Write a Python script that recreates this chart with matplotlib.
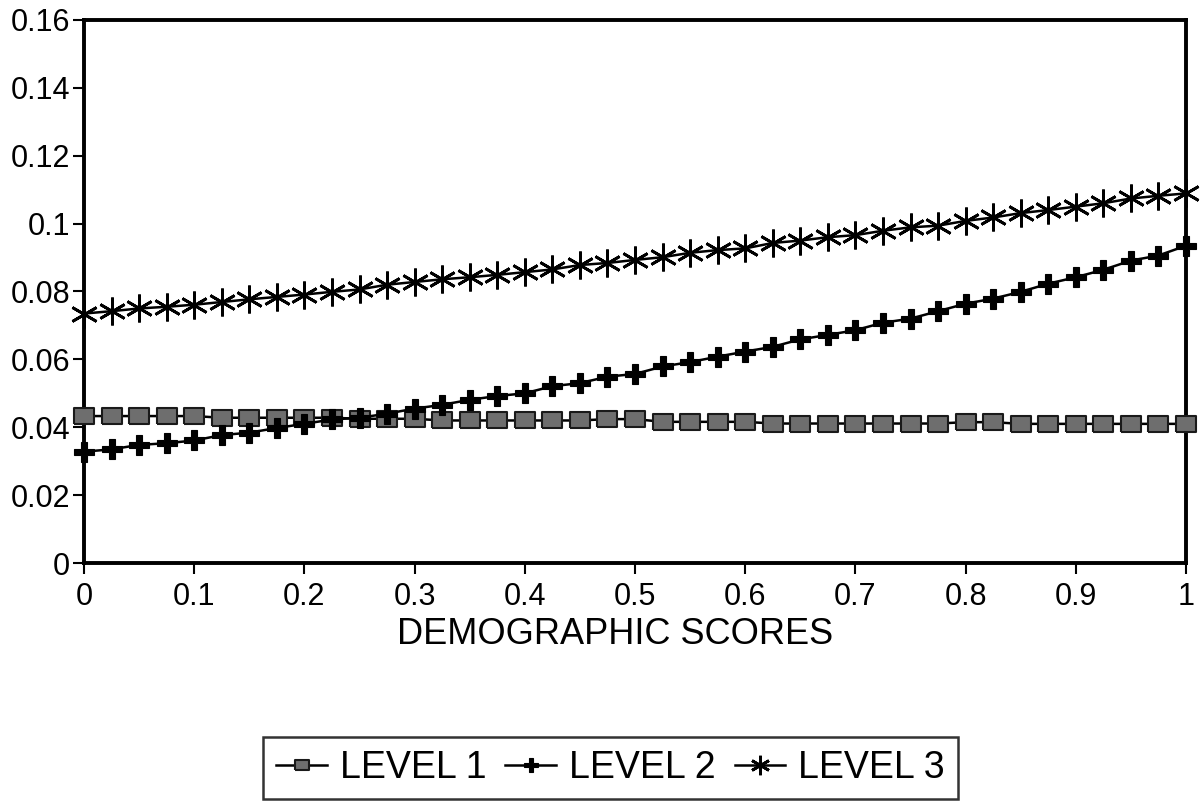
import matplotlib
matplotlib.use("Agg")
import matplotlib.pyplot as plt
from matplotlib.ticker import FixedLocator

# ─────────────────────────────────────────────
#  Data
# ─────────────────────────────────────────────

DEMO_SCORES = [
    0.0, 0.025, 0.05, 0.075, 0.1, 0.125, 0.15, 0.175, 0.2, 0.225,
    0.25, 0.275, 0.3, 0.325, 0.35, 0.375, 0.4, 0.425, 0.45, 0.475,
    0.5, 0.525, 0.55, 0.575, 0.6, 0.625, 0.65, 0.675, 0.7, 0.725,
    0.75, 0.775, 0.8, 0.825, 0.85, 0.875, 0.9, 0.925, 0.95, 0.975, 1.0,
]

LEVEL_1 = [
    0.0433, 0.0433, 0.0433, 0.0433, 0.0433, 0.0428, 0.0428, 0.0428, 0.0428, 0.0428,
    0.0425, 0.0425, 0.0425, 0.0420, 0.0420, 0.0420, 0.0420, 0.0420, 0.0420, 0.0424,
    0.0424, 0.0416, 0.0416, 0.0416, 0.0416, 0.0411, 0.0411, 0.0411, 0.0411, 0.0411,
    0.0411, 0.0411, 0.0415, 0.0415, 0.0410, 0.0410, 0.0410, 0.0410, 0.0410, 0.0410, 0.0410,
]

LEVEL_2 = [
    0.0328, 0.0335, 0.0348, 0.0353, 0.0361, 0.0377, 0.0384, 0.0398, 0.0410, 0.0423,
    0.0428, 0.0440, 0.0455, 0.0466, 0.0481, 0.0492, 0.0500, 0.0521, 0.0530, 0.0549,
    0.0557, 0.0579, 0.0592, 0.0608, 0.0623, 0.0637, 0.0659, 0.0672, 0.0686, 0.0708,
    0.0720, 0.0742, 0.0764, 0.0779, 0.0799, 0.0823, 0.0842, 0.0864, 0.0891, 0.0906, 0.0935,
]

LEVEL_3 = [
    0.0735, 0.0742, 0.0750, 0.0755, 0.0761, 0.0769, 0.0777, 0.0784, 0.0791, 0.0799,
    0.0806, 0.0820, 0.0828, 0.0836, 0.0842, 0.0849, 0.0857, 0.0865, 0.0878, 0.0884,
    0.0893, 0.0901, 0.0914, 0.0922, 0.0927, 0.0943, 0.0950, 0.0960, 0.0966, 0.0979,
    0.0989, 0.0994, 0.1008, 0.1018, 0.1031, 0.1040, 0.1050, 0.1060, 0.1074, 0.1082, 0.1089,
]

SERIES_LABELS = ["LEVEL 1", "LEVEL 2", "LEVEL 3"]
X_TICKS = [0, 0.1, 0.2, 0.3, 0.4, 0.5, 0.6, 0.7, 0.8, 0.9, 1]
X_TICK_LABELS = ["0", "0.1", "0.2", "0.3", "0.4", "0.5", "0.6", "0.7", "0.8", "0.9", "1"]
Y_TICKS = [0, 0.02, 0.04, 0.06, 0.08, 0.1, 0.12, 0.14, 0.16]
Y_TICK_LABELS = ["0", "0.02", "0.04", "0.06", "0.08", "0.1", "0.12", "0.14", "0.16"]

FONT = ["Liberation Sans", "DejaVu Sans"]

# wide rectangle marker for level 1
RECT = [(-1.3, -1.0), (1.3, -1.0), (1.3, 1.0), (-1.3, 1.0), (-1.3, -1.0)]

# ─────────────────────────────────────────────
#  Plot
# ─────────────────────────────────────────────

fig = plt.figure(figsize=(12.02, 8.05), dpi=100)
ax = fig.add_axes([0.0699, 0.3006, 0.9168, 0.6746])

ax.plot(DEMO_SCORES, LEVEL_1, color="black", linewidth=1.8,
        marker=RECT, markersize=14.5, markerfacecolor="#6e6e6e",
        markeredgecolor="#1a1a1a", markeredgewidth=1.5,
        label=SERIES_LABELS[0], clip_on=False, zorder=3)
ax.plot(DEMO_SCORES, LEVEL_2, color="black", linewidth=1.8,
        marker="P", markersize=14, markerfacecolor="black",
        markeredgecolor="black", markeredgewidth=0.8,
        label=SERIES_LABELS[1], clip_on=False, zorder=4)
ax.plot(DEMO_SCORES, LEVEL_3, color="black", linewidth=1.8,
        marker=(6, 2, 0), markersize=20, markeredgewidth=2.0,
        markeredgecolor="black",
        label=SERIES_LABELS[2], clip_on=False, zorder=4)

ax.set_xlim(0, 1)
ax.set_ylim(0, 0.16)
ax.xaxis.set_major_locator(FixedLocator(X_TICKS))
ax.yaxis.set_major_locator(FixedLocator(Y_TICKS))
ax.set_xticklabels(X_TICK_LABELS, fontsize=22, family=FONT)
ax.set_yticklabels(Y_TICK_LABELS, fontsize=22, family=FONT)
ax.tick_params(axis="both", direction="out", length=8, width=1.5)
ax.tick_params(axis="y", pad=2)
ax.tick_params(axis="x", pad=6)

for side in ["left", "right", "top", "bottom"]:
    ax.spines[side].set_linewidth(2.8)

ax.set_xlabel("DEMOGRAPHIC SCORES", fontsize=26, family=FONT)
ax.xaxis.set_label_coords(0.482, -0.099)

leg = fig.legend(loc="upper center", bbox_to_anchor=(0.508, 1 - 737 / 805),
                 bbox_transform=fig.transFigure, ncol=3,
                 frameon=True, fancybox=False, prop={"family": FONT, "size": 27},
                 handlelength=1.35, handletextpad=0.35, columnspacing=0.5,
                 borderpad=0.35, borderaxespad=0, markerscale=0.7)
leg.get_frame().set_edgecolor("black")
leg.get_frame().set_linewidth(1.8)

fig.savefig("out.png", dpi=100)
plt.close(fig)
